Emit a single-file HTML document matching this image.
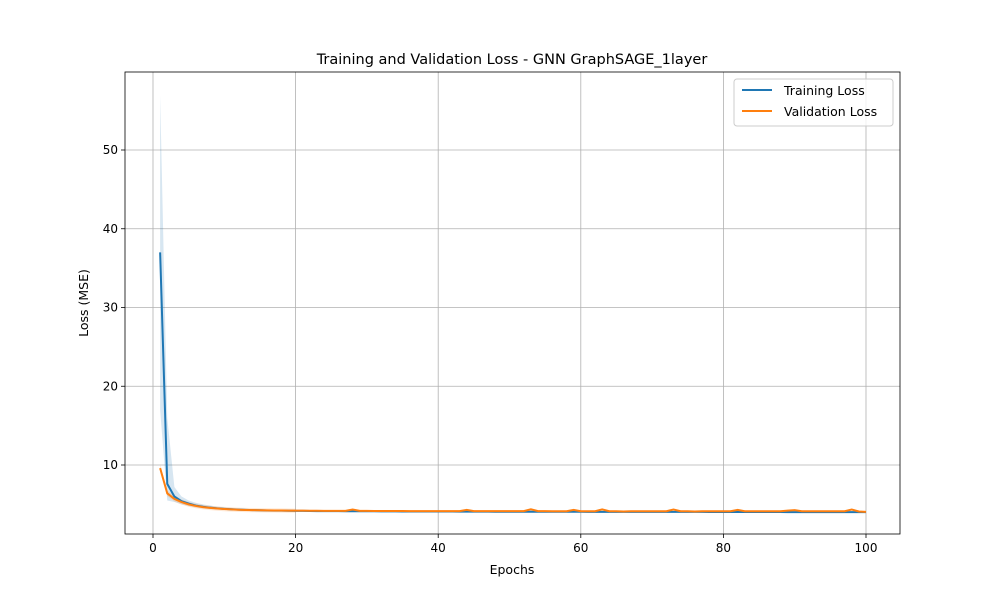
<!DOCTYPE html>
<html><head><meta charset="utf-8"><style>
body{margin:0;background:#fff;font-family:"Liberation Sans","DejaVu Sans",sans-serif}
svg text{font-family:"DejaVu Sans","Liberation Sans",sans-serif}
</style></head><body>
<svg id="chart" width="1000" height="600" viewBox="0 0 1000 600">
<rect width="1000" height="600" fill="#fff"/>
<g id="grid"></g><g id="bands"></g><g id="lines"></g><g id="axes"></g>
<text x="512" y="64" text-anchor="middle" font-size="14.5">Training and Validation Loss - GNN GraphSAGE_1layer</text>
<text x="512" y="574" text-anchor="middle" font-size="12.5">Epochs</text>
<text transform="translate(88,303) rotate(-90)" text-anchor="middle" font-size="12.5">Loss (MSE)</text>
<g>
<rect x="734" y="79" width="159" height="47" rx="3" fill="#fff" fill-opacity="0.8" stroke="#ccc"/>
<line x1="742" y1="90" x2="772" y2="90" stroke="#1f77b4" stroke-width="2"/>
<text x="784" y="95" font-size="12.5">Training Loss</text>
<line x1="742" y1="111" x2="772" y2="111" stroke="#ff7f0e" stroke-width="2"/>
<text x="784" y="116" font-size="12.5">Validation Loss</text>
</g>
</svg>
<script>
const epochs=[];for(let i=1;i<=100;i++)epochs.push(i);
const trainLoss=[37,7.6,6.0,5.4,5.1,4.85,4.7,4.58,4.5,4.43,4.38,4.34,4.3,4.27,4.25,4.23,4.21,4.2,4.19,4.18,4.17,4.16,4.15,4.15,4.14,4.14,4.13,4.13,4.12,4.12,4.12,4.11,4.11,4.11,4.1,4.1,4.1,4.1,4.09,4.09,4.09,4.09,4.08,4.08,4.08,4.08,4.08,4.07,4.07,4.07,4.07,4.07,4.07,4.06,4.06,4.06,4.06,4.06,4.06,4.06,4.05,4.05,4.05,4.05,4.05,4.05,4.05,4.05,4.04,4.04,4.04,4.04,4.04,4.04,4.04,4.04,4.04,4.03,4.03,4.03,4.03,4.03,4.03,4.03,4.03,4.03,4.03,4.03,4.02,4.02,4.02,4.02,4.02,4.02,4.02,4.02,4.02,4.02,4.02,4.02];
const trainLow=[17,5.5,5.3,5.0,4.8,4.6,4.5,4.4,4.35,4.3,4.26,4.23,4.2,4.18,4.16,4.15,4.13,4.12,4.11,4.1];
const trainHigh=[57,16,7.2,6.0,5.5,5.2,5.0,4.85,4.72,4.62,4.55,4.48,4.43,4.39,4.36,4.33,4.31,4.29,4.28,4.27];
const valLoss=[9.6,6.4,5.7,5.3,5.0,4.8,4.65,4.55,4.47,4.41,4.36,4.32,4.29,4.27,4.25,4.24,4.23,4.22,4.21,4.2,4.2,4.19,4.19,4.18,4.18,4.18,4.17,4.35,4.17,4.17,4.16,4.16,4.16,4.16,4.16,4.15,4.15,4.15,4.15,4.15,4.15,4.15,4.15,4.3,4.14,4.14,4.14,4.14,4.14,4.14,4.14,4.14,4.38,4.14,4.14,4.13,4.13,4.13,4.3,4.13,4.13,4.13,4.36,4.13,4.13,4.1,4.13,4.13,4.13,4.13,4.13,4.13,4.35,4.13,4.13,4.1,4.13,4.13,4.13,4.13,4.13,4.3,4.13,4.13,4.13,4.13,4.13,4.13,4.2,4.27,4.13,4.13,4.13,4.13,4.13,4.13,4.13,4.35,4.1,4.05];
const xTicks=[0,20,40,60,80,100];
const yTicks=[10,20,30,40,50];
const L=125,R=900,T=72,B=534;
const xs=v=>153+(v-0)*(866-153)/100;
const ys=v=>465-(v-10)*(465-150)/40;
const NS='http://www.w3.org/2000/svg';
function mk(t,a,p){const e=document.createElementNS(NS,t);for(const k in a)e.setAttribute(k,a[k]);p.appendChild(e);return e;}
const grid=document.getElementById('grid'),axes=document.getElementById('axes'),lines=document.getElementById('lines'),bands=document.getElementById('bands');
xTicks.forEach(t=>{const x=xs(t);
const g=mk('line',{x1:x,x2:x,y1:T,y2:B,stroke:'#b0b0b0','stroke-width':0.8},grid);


mk('line',{x1:x,x2:x,y1:B,y2:B+4,stroke:'#000','stroke-width':0.8},axes);
const tx=mk('text',{x:x,y:B+18,'text-anchor':'middle','font-size':'12'},axes);tx.textContent=t;

});
yTicks.forEach(t=>{const y=ys(t);
const g=mk('line',{x1:L,x2:R,y1:y,y2:y,stroke:'#b0b0b0','stroke-width':0.8},grid);


mk('line',{x1:L-4,x2:L,y1:y,y2:y,stroke:'#000','stroke-width':0.8},axes);
const tx=mk('text',{x:L-7,y:y+4,'text-anchor':'end','font-size':'12'},axes);tx.textContent=t;

});
const frame=mk('rect',{x:L,y:T,width:R-L,height:B-T,fill:'none',stroke:'#000','stroke-width':0.8},axes);


// training band
let up=trainHigh.map((v,i)=>xs(epochs[i])+','+ys(v));
let lo=trainLow.map((v,i)=>xs(epochs[i])+','+ys(v)).reverse();
const band=mk('polygon',{points:up.concat(lo).join(' '),fill:'#1f77b4','fill-opacity':0.18},bands);


const vb=mk('polygon',{points:valLoss.slice(0,20).map((v,i)=>xs(epochs[i])+','+ys(v*1.04+0.1)).concat(valLoss.slice(0,20).map((v,i)=>xs(epochs[i])+','+ys(v*0.96-0.1)).reverse()).join(' '),fill:'#ff7f0e','fill-opacity':0.18},bands);


const tl=mk('polyline',{points:trainLoss.map((v,i)=>xs(epochs[i])+','+ys(v)).join(' '),fill:'none',stroke:'#1f77b4','stroke-width':2},lines);


const vl=mk('polyline',{points:valLoss.map((v,i)=>xs(epochs[i])+','+ys(v)).join(' '),fill:'none',stroke:'#ff7f0e','stroke-width':2},lines);


</script>
</body></html>
